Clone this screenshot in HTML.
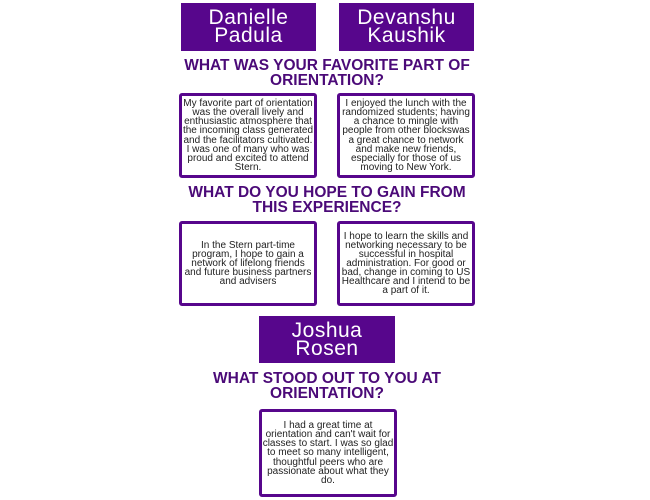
<!DOCTYPE html>
<html><head><style>
body{margin:0;width:650px;height:500px;background:#fff;position:relative;font-family:"Liberation Sans",sans-serif;overflow:hidden}
.n{position:absolute;background:#57068c;color:#fff;text-align:center;font-size:21px;line-height:18px;display:flex;align-items:center;justify-content:center;letter-spacing:0.5px}
.h{position:absolute;color:#4b0a78;font-weight:bold;text-align:center;font-size:15.5px;line-height:15px;left:150px;width:354px}
.b{position:absolute;box-sizing:border-box;border:3px solid #57068c;border-radius:3px;display:flex;align-items:center;justify-content:center;text-align:center;font-size:10px;line-height:9.1px;color:#222;padding:0;white-space:nowrap}
</style></head><body>
<div class="n" style="left:181px;top:3px;width:135px;height:48px">Danielle<br>Padula</div>
<div class="n" style="left:339px;top:3px;width:135px;height:48px">Devanshu<br>Kaushik</div>
<div class="h" style="top:58px">WHAT WAS YOUR FAVORITE PART OF<br>ORIENTATION?</div>
<div class="b" style="left:179px;top:93px;width:138px;height:85px"><div>My favorite part of orientation<br>was the overall lively and<br>enthusiastic atmosphere that<br>the incoming class generated<br>and the facilitators cultivated.<br>I was one of many who was<br>proud and excited to attend<br>Stern.</div></div>
<div class="b" style="left:337px;top:93px;width:138px;height:85px"><div>I enjoyed the lunch with the<br>randomized students; having<br>a chance to mingle with<br>people from other blockswas<br>a great chance to network<br>and make new friends,<br>especially for those of us<br>moving to New York.</div></div>
<div class="h" style="top:185px">WHAT DO YOU HOPE TO GAIN FROM<br>THIS EXPERIENCE?</div>
<div class="b" style="left:179px;top:221px;width:138px;height:85px"><div>In the Stern part-time<br>program, I hope to gain a<br>network of lifelong friends<br>and future business partners<br>and advisers</div></div>
<div class="b" style="left:337px;top:221px;width:138px;height:85px"><div>I hope to learn the skills and<br>networking necessary to be<br>successful in hospital<br>administration. For good or<br>bad, change in coming to US<br>Healthcare and I intend to be<br>a part of it.</div></div>
<div class="n" style="left:259px;top:316px;width:136px;height:47px">Joshua<br>Rosen</div>
<div class="h" style="top:371px">WHAT STOOD OUT TO YOU AT<br>ORIENTATION?</div>
<div class="b" style="left:259px;top:409px;width:138px;height:88px"><div>I had a great time at<br>orientation and can't wait for<br>classes to start. I was so glad<br>to meet so many intelligent,<br>thoughtful peers who are<br>passionate about what they<br>do.</div></div>
</body></html>
